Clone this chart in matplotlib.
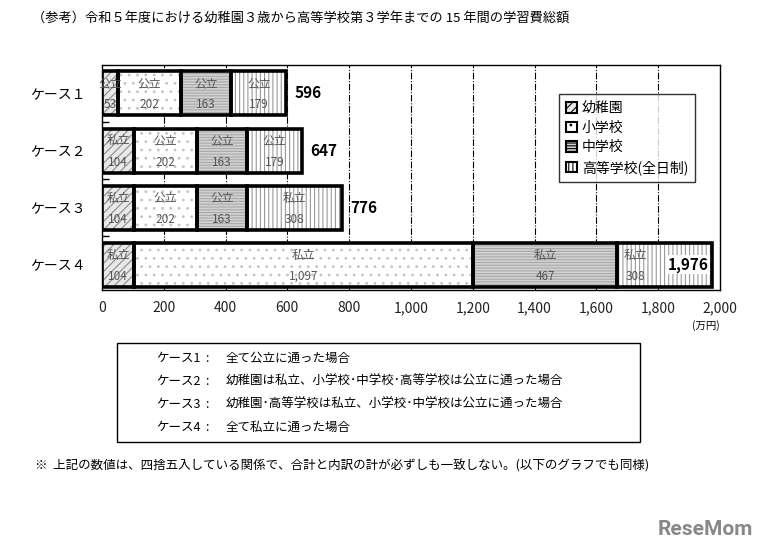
import matplotlib
matplotlib.use("Agg")
import matplotlib.pyplot as plt
from matplotlib.patches import Patch, Rectangle
import numpy as np

plt.rcParams['font.family'] = ['Noto Sans CJK JP', 'DejaVu Sans']
plt.rcParams['hatch.linewidth'] = 0.8

# ---- data ----
cases = ["ケース１", "ケース２", "ケース３", "ケース４"]
stages = ["幼稚園", "小学校", "中学校", "高等学校(全日制)"]
kinder = [53, 104, 104, 104]
elementary = [202, 202, 202, 1097]
junior = [163, 163, 163, 467]
high = [179, 179, 308, 308]
totals = [596, 647, 776, 1976]
kinder_type = ["公立", "私立", "私立", "私立"]
elementary_type = ["公立", "公立", "公立", "私立"]
junior_type = ["公立", "公立", "公立", "私立"]
high_type = ["公立", "公立", "私立", "私立"]
xticks = [0, 200, 400, 600, 800, 1000, 1200, 1400, 1600, 1800, 2000]
xtick_labels = ["0", "200", "400", "600", "800", "1,000", "1,200", "1,400", "1,600", "1,800", "2,000"]
case_desc_labels = ["ケース1", "ケース2", "ケース3", "ケース4"]
case_desc = ["全て公立に通った場合",
             "幼稚園は私立、小学校･中学校･高等学校は公立に通った場合",
             "幼稚園･高等学校は私立、小学校･中学校は公立に通った場合",
             "全て私立に通った場合"]
title = "（参考）令和５年度における幼稚園３歳から高等学校第３学年までの 15 年間の学習費総額"
note = "※  上記の数値は、四捨五入している関係で、合計と内訳の計が必ずしも一致しない。(以下のグラフでも同様)"

series = [kinder, elementary, junior, high]
types = [kinder_type, elementary_type, junior_type, high_type]
styles = [
    dict(facecolor="#e8e8e8", hatch_color="#8c8c8c", hatch="////"),
    dict(facecolor="#ffffff", hatch_color="#c4c4c4", hatch=".."),
    dict(facecolor="#d2d2d2", hatch_color="#a8a8a8", hatch="------"),
    dict(facecolor="#ffffff", hatch_color="#9a9a9a", hatch="||||"),
]

fig = plt.figure(figsize=(7.61, 5.53), dpi=100)
ax = fig.add_axes([0.134, 0.4756, 0.812, 0.407])

y = np.arange(len(cases))
h = 0.77
inside_total = [t > 1900 for t in totals]
left = np.zeros(len(cases))
nseries = len(series)
for si, (vals, st, tp) in enumerate(zip(series, styles, types)):
    vals = np.array(vals, dtype=float)
    ax.barh(y, vals, left=left, height=h, color=st["facecolor"],
            edgecolor=st["hatch_color"], hatch=st["hatch"], linewidth=0, zorder=2)
    ax.barh(y, vals, left=left, height=h, fill=False, edgecolor="black",
            linewidth=2.6, zorder=3)
    for i in range(len(cases)):
        cx = left[i] + vals[i] / 2
        if si == nseries - 1 and inside_total[i]:
            cx = (left[i] + (totals[i] - 200)) / 2 + 5
        num = f"{int(vals[i]):,}"
        ax.text(cx, y[i] - 0.17, tp[i], ha="center", va="center",
                fontsize=8.5, color="#555555", zorder=4)
        ax.text(cx, y[i] + 0.2, num, ha="center", va="center",
                fontsize=8.5, color="#555555", zorder=4)
    left += vals

for i, t in enumerate(totals):
    if inside_total[i]:
        ax.text(t - 12, y[i], f"{t:,}", ha="right", va="center", fontsize=11,
                fontweight="bold", zorder=5,
                bbox=dict(boxstyle="square,pad=0.1", fc="white", ec="none"))
    else:
        ax.text(t + 28, y[i], f"{t:,}", ha="left", va="center", fontsize=11,
                fontweight="bold", zorder=5)

ax.set_xlim(0, 2000)
ax.set_ylim(3.44, -0.5)
ax.set_xticks(xticks)
ax.set_xticklabels(xtick_labels, fontsize=10, color="#222222")
ax.tick_params(axis="x", length=0, pad=8)
ax.set_yticks(y)
ax.set_yticklabels(cases, fontsize=10)
ax.tick_params(axis="y", length=0, pad=12)
ax.set_yticks([0.5, 1.5, 2.5], minor=True)
ax.tick_params(axis="y", which="minor", direction="in", length=5, width=1)
for gx in xticks[1:-1]:
    ax.axvline(gx, color="black", lw=0.8, ls=(0, (6, 1.5, 1, 1.5)), zorder=1)
for sp in ax.spines.values():
    sp.set_linewidth(1)
    sp.set_color("black")

fig.text(0.946, 0.412, "(万円)", ha="right", va="center", fontsize=7.5)

handles = [Patch(facecolor=st["facecolor"], edgecolor="black", hatch=st["hatch"],
                 linewidth=1.5) for st in styles]
leg = fig.legend(handles, stages, loc="upper left", bbox_to_anchor=(0.726, 0.842),
                 frameon=True, fancybox=False, edgecolor="black", fontsize=10,
                 handlelength=0.8, handleheight=0.8, handletextpad=0.3,
                 labelspacing=0.4, borderpad=0.5)
leg.get_frame().set_linewidth(1)

fig.text(0.042, 0.967, title, ha="left", va="center", fontsize=9.5)

fig.patches.append(Rectangle((0.1537, 0.2007), 0.687, 0.179, transform=fig.transFigure,
                             fill=False, edgecolor="black", linewidth=1))
for k, (lab, d) in enumerate(zip(case_desc_labels, case_desc)):
    yy = 0.3526 - k * 0.0416
    fig.text(0.2050, yy, lab, ha="left", va="center", fontsize=9)
    fig.text(0.270, yy, ":", ha="left", va="center", fontsize=9)
    fig.text(0.296, yy, d, ha="left", va="center", fontsize=9)

fig.text(0.046, 0.157, note, ha="left", va="center", fontsize=9)

fig.text(0.99, 0.042, "ReseMom", ha="right", va="center", fontsize=15,
         fontweight="bold", color="#888888", family="Roboto")

fig.savefig("out.png", dpi=100)
